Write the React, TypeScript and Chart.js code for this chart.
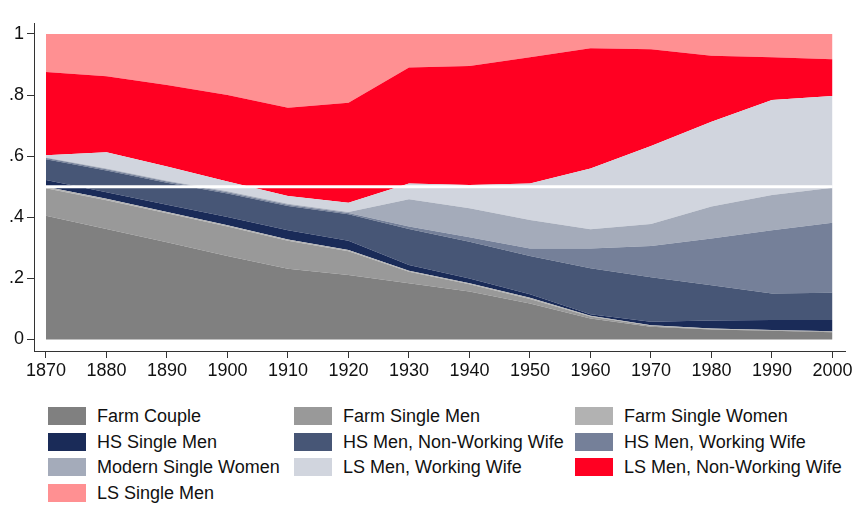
import * as React from "react";
import { useEffect, useRef } from "react";
import { Chart, registerables } from "chart.js";

// decades on the x axis
const years = [1870, 1880, 1890, 1900, 1910, 1920, 1930, 1940, 1950, 1960, 1970, 1980, 1990, 2000];

// shares of each household type (stacked, sum to 1)
const farmCouple = [0.405, 0.362, 0.318, 0.273, 0.232, 0.211, 0.184, 0.157, 0.118, 0.069, 0.042, 0.033, 0.029, 0.024];
const farmSingleMen = [0.090, 0.094, 0.095, 0.097, 0.091, 0.078, 0.038, 0.024, 0.015, 0.006, 0.003, 0.001, 0.001, 0.002];
const farmSingleWomen = [0.005, 0.005, 0.004, 0.004, 0.004, 0.004, 0.003, 0.003, 0.004, 0.003, 0.002, 0.002, 0.001, 0.001];
const hsSingleMen = [0.022, 0.021, 0.024, 0.027, 0.031, 0.030, 0.019, 0.016, 0.011, 0.005, 0.011, 0.026, 0.033, 0.037];
const hsMenNonWorkingWife = [0.068, 0.071, 0.072, 0.077, 0.079, 0.087, 0.118, 0.120, 0.125, 0.150, 0.146, 0.116, 0.087, 0.089];
const hsMenWorkingWife = [0.004, 0.004, 0.004, 0.004, 0.004, 0.004, 0.008, 0.015, 0.025, 0.065, 0.102, 0.153, 0.207, 0.229];
const modernSingleWomen = [0.002, 0.003, 0.003, 0.003, 0.003, 0.003, 0.089, 0.095, 0.093, 0.063, 0.072, 0.104, 0.115, 0.115];
const lsMenWorkingWife = [0.007, 0.053, 0.046, 0.032, 0.026, 0.031, 0.052, 0.076, 0.120, 0.199, 0.255, 0.278, 0.311, 0.300];
const lsMenNonWorkingWife = [0.273, 0.249, 0.267, 0.283, 0.289, 0.327, 0.379, 0.389, 0.413, 0.393, 0.317, 0.216, 0.140, 0.120];
const lsSingleMen = [0.124, 0.138, 0.167, 0.200, 0.241, 0.225, 0.110, 0.105, 0.076, 0.047, 0.050, 0.071, 0.076, 0.083];

const yTicks = [0, 0.2, 0.4, 0.6, 0.8, 1];
const yTickLabels = ["0", ".2", ".4", ".6", ".8", "1"];
const refLine = 0.5;

const series = [
    { label: "Farm Couple", data: farmCouple, color: "#808080" },
    { label: "Farm Single Men", data: farmSingleMen, color: "#999999" },
    { label: "Farm Single Women", data: farmSingleWomen, color: "#b2b2b2" },
    { label: "HS Single Men", data: hsSingleMen, color: "#1a2b58" },
    { label: "HS Men, Non-Working Wife", data: hsMenNonWorkingWife, color: "#475676" },
    { label: "HS Men, Working Wife", data: hsMenWorkingWife, color: "#758099" },
    { label: "Modern Single Women", data: modernSingleWomen, color: "#a4abba" },
    { label: "LS Men, Working Wife", data: lsMenWorkingWife, color: "#d1d5de" },
    { label: "LS Men, Non-Working Wife", data: lsMenNonWorkingWife, color: "#ff0022" },
    { label: "LS Single Men", data: lsSingleMen, color: "#ff9092" },
];

const FONT = "'Liberation Sans', Arial, sans-serif";
const legendCols = [48, 294, 575];
const legendRowTop = 407;
const legendRowStep = 25.6;

function StackChart() {
    const canvasRef = useRef<HTMLCanvasElement>(null);
    useEffect(() => {
        const ctx = canvasRef.current?.getContext("2d");
        if (!ctx) return;
        Chart.register(...registerables);

        const datasets: any[] = series.map((s, i) => ({
            label: s.label,
            data: years.map((yr, j) => ({ x: yr, y: s.data[j] })),
            backgroundColor: s.color,
            borderColor: s.color,
            borderWidth: 0,
            pointRadius: 0,
            tension: 0,
            fill: i === 0 ? "origin" : "-1",
            stack: "shares",
            order: 1,
        }));
        datasets.push({
            label: "ref",
            data: [{ x: years[0], y: refLine }, { x: years[years.length - 1], y: refLine }],
            borderColor: "#ffffff",
            borderWidth: 3,
            pointRadius: 0,
            fill: false,
            stack: "ref",
            order: 0,
        });

        const chart = new Chart(ctx, {
            type: "line",
            data: { datasets },
            options: {
                animation: false,
                responsive: false,
                layout: { padding: { top: 23, right: 14, left: 0, bottom: 0 } },
                plugins: { legend: { display: false }, tooltip: { enabled: false } },
                scales: {
                    x: {
                        type: "linear",
                        min: 1868.02,
                        max: 2002.07,
                        afterBuildTicks: (scale: any) => { scale.ticks = years.map(v => ({ value: v })); },
                        afterFit: (scale: any) => { scale.height = 39; },
                        ticks: {
                            color: "#111",
                            font: { family: FONT, size: 18 },
                            padding: 2,
                            maxRotation: 0,
                            callback: (v: any) => String(v),
                        },
                        grid: { drawOnChartArea: false, drawTicks: true, tickLength: 7, tickColor: "#333" },
                        border: { display: true, color: "#333", width: 1 },
                    },
                    y: {
                        type: "linear",
                        stacked: true,
                        min: -0.0376,
                        max: 1.036,
                        afterBuildTicks: (scale: any) => { scale.ticks = yTicks.map(v => ({ value: v })); },
                        afterFit: (scale: any) => { scale.width = 34; },
                        ticks: {
                            color: "#111",
                            font: { family: FONT, size: 18 },
                            padding: 3,
                            callback: (v: any) => {
                                const k = yTicks.findIndex(t => Math.abs(t - v) < 1e-6);
                                return k >= 0 ? yTickLabels[k] : "";
                            },
                        },
                        grid: { drawOnChartArea: false, drawTicks: true, tickLength: 7, tickColor: "#333" },
                        border: { display: true, color: "#333", width: 1 },
                    },
                },
            } as any,
        });

        return () => {
            chart.destroy();
        };
    }, []);

    return (
        <div style={{ position: "fixed", left: 0, top: 0, width: 859, height: 514, background: "#fff" }}>
            <canvas ref={canvasRef} width={859} height={390} style={{ position: "absolute", left: 0, top: 0 }}></canvas>
            {series.map((s, i) => {
                const col = i % 3;
                const row = Math.floor(i / 3);
                const top = legendRowTop + row * legendRowStep;
                return (
                    <div key={s.label}>
                        <div style={{ position: "absolute", left: legendCols[col], top, width: 38, height: 18, background: s.color }}></div>
                        <div style={{
                            position: "absolute", left: legendCols[col] + 49, top: top - 2, height: 22, lineHeight: "22px",
                            fontFamily: FONT, fontSize: 18, color: "#111", whiteSpace: "nowrap",
                        }}>{s.label}</div>
                    </div>
                );
            })}
        </div>
    );
}

export default function App() {
    return <StackChart />;
}
